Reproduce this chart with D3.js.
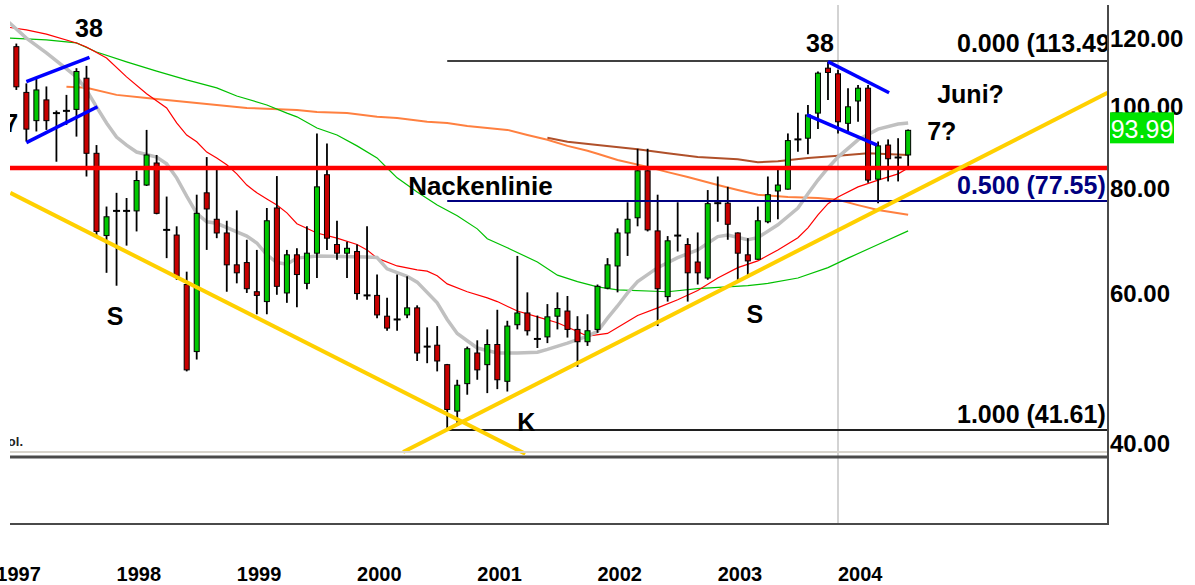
<!DOCTYPE html>
<html>
<head>
<meta charset="utf-8">
<script src="https://cdn.jsdelivr.net/npm/d3@7"></script>
<style>
  body { margin: 0; background: #fff; }
  svg { display: block; font-family: 'Liberation Sans', Arial, sans-serif; }
</style>
</head>
<body>
<svg id="chart" width="1195" height="585"></svg>
<script>
// monthly candles, first one = March 1997 (months counted from Jan 1997)
const FIRST_MONTH = 2;
// [open, high, low, close]
const candles = [
  [118, 119, 104.9, 105.8], [104.2, 106.8, 91.2, 94.3], [96.5, 108.3, 93.7, 104.9], [102.1, 105.9, 94.1, 96.5],
  [98.6, 99.2, 86.3, 98.4], [99.0, 103.5, 95.4, 99.2], [99.5, 111.3, 92.4, 110.3], [108.3, 112.0, 82.9, 88.3],
  [88.3, 90.3, 70.2, 71.4], [70.6, 76.4, 63.8, 74.3], [75.6, 79.3, 61.6, 75.4], [75.6, 78.2, 68.7, 75.4],
  [75.5, 84.2, 71.4, 82.0], [81.0, 94.1, 80.8, 87.9], [86.0, 87.9, 74.8, 75.0], [71.8, 78.5, 66.4, 71.6],
  [70.7, 72.4, 62.6, 63.2], [61.8, 64.0, 48.8, 49.0], [51.5, 78.9, 50.4, 75.0], [79.3, 87.4, 67.9, 75.9],
  [73.8, 85.1, 70.1, 71.1], [71.1, 73.5, 60.6, 65.2], [65.2, 75.6, 62.0, 63.8], [65.6, 69.8, 60.4, 61.1],
  [60.6, 67.9, 57.0, 60.0], [59.0, 76.1, 57.0, 73.5], [76.1, 83.0, 60.1, 61.5], [60.4, 67.9, 58.8, 67.0],
  [67.0, 68.2, 58.1, 63.5], [62.0, 72.4, 61.0, 67.3], [67.3, 93.2, 62.9, 80.6], [83.3, 90.7, 67.9, 70.1],
  [68.9, 73.5, 66.1, 67.3], [67.3, 69.4, 62.9, 68.2], [67.6, 68.9, 59.3, 60.3], [60.1, 72.4, 59.3, 59.9],
  [60.0, 63.5, 56.4, 56.9], [56.7, 59.6, 54.5, 54.9], [56.3, 63.5, 54.5, 56.1], [56.9, 63.2, 56.4, 58.0],
  [58.0, 58.4, 50.2, 51.3], [52.3, 55.0, 49.9, 52.1], [52.4, 55.2, 48.8, 50.2], [49.7, 49.8, 41.61, 44.0],
  [43.8, 47.7, 42.3, 47.0], [47.2, 52.2, 45.8, 51.9], [51.3, 53.1, 47.7, 49.0], [49.7, 54.7, 46.0, 52.5],
  [52.5, 57.7, 46.5, 47.7], [47.5, 56.0, 46.2, 55.2], [55.4, 66.8, 54.7, 57.2], [57.2, 60.5, 53.8, 54.5],
  [53.4, 56.8, 52.0, 53.2], [53.6, 58.6, 52.7, 56.6], [56.7, 60.5, 54.7, 57.9], [57.5, 59.9, 53.5, 54.7],
  [54.7, 56.7, 49.4, 52.9], [52.9, 57.0, 52.3, 54.5], [54.7, 61.8, 54.2, 61.5], [61.2, 66.4, 61.0, 65.2],
  [65.0, 72.0, 60.5, 71.1], [71.1, 77.3, 66.8, 73.8], [74.1, 89.4, 72.4, 84.2], [84.2, 89.4, 71.4, 71.7],
  [71.5, 78.9, 55.2, 61.1], [59.8, 70.5, 59.0, 69.6], [70.7, 77.3, 67.6, 70.5], [68.9, 70.1, 59.0, 63.8],
  [65.7, 71.2, 61.8, 63.8], [62.9, 79.9, 62.6, 77.0], [77.2, 82.9, 73.3, 77.0], [77.1, 80.6, 69.8, 72.8],
  [71.1, 71.2, 62.3, 67.3], [67.0, 70.1, 62.9, 65.9], [66.2, 76.4, 66.1, 73.5], [73.3, 82.9, 73.0, 78.9],
  [79.7, 85.2, 73.8, 81.0], [80.1, 93.2, 80.0, 91.4], [91.8, 98.6, 88.7, 91.6], [92.0, 100.7, 88.1, 98.0],
  [98.5, 110.3, 94.3, 109.8], [111.3, 113.49, 102.1, 110.0], [109.6, 110.8, 93.2, 96.2], [95.8, 105.4, 93.2, 100.2],
  [101.8, 106.3, 96.2, 105.4], [105.4, 106.3, 81.5, 82.1], [82.3, 91.2, 77.1, 90.1], [90.3, 91.7, 81.8, 87.0],
  [87.4, 92.0, 81.8, 87.2], [87.9, 94.2, 85.2, 93.99]
];

// moving averages: [candle index, value]
const maGray = [[-1, 126.9], [1, 120.8], [3, 116.0], [6, 108.7], [7, 104.9], [8, 100.2], [9, 95.9], [10, 92.3],
  [11, 90.3], [12, 88.6], [14, 87.4], [15, 85.8], [16, 82.6], [17, 78.6], [18, 75.0], [19, 73.3], [20, 73.0],
  [22, 71.3], [23, 70.5], [24, 69.2], [25, 67.0], [26, 65.6], [27, 65.3], [28, 66.4], [30, 66.8], [35, 66.6],
  [36, 66.5], [37, 64.5], [39, 63.2], [40, 62.2], [42, 58.8], [43, 56.2], [44, 54.1], [46, 52.0], [48, 51.3],
  [50, 51.3], [52, 51.4], [53, 51.8], [55, 52.7], [57, 53.7], [58, 54.4], [59, 56.4], [60, 58.3], [61, 60.4],
  [62, 62.3], [64, 64.7], [66, 66.5], [68, 67.9], [70, 70.4], [71, 70.7], [73, 69.8], [74, 70.2], [76, 72.7],
  [78, 76.1], [79, 79.1], [80, 82.1], [81, 84.85], [82, 87.4], [84, 91.6], [86, 94.3], [88, 95.6], [89, 95.9]];
const maRed = [[-1, 124.5], [1, 123.5], [3, 122.1], [6, 119.2], [7, 117.9], [9, 114.4], [11, 108.7], [13, 103.8],
  [15, 99.9], [16, 95.9], [17, 92.8], [18, 91.1], [19, 88.6], [20, 87.2], [21, 85.6], [22, 83.5], [23, 81.0],
  [24, 79.3], [25, 78.0], [26, 76.7], [27, 75.1], [28, 72.9], [30, 71.1], [32, 70.1], [34, 68.9], [35, 67.9],
  [36, 66.4], [38, 65.0], [40, 64.3], [41, 64.1], [42, 63.3], [43, 61.9], [45, 60.6], [47, 59.6], [48, 59.0],
  [50, 57.5], [52, 56.6], [54, 55.7], [56, 54.4], [57, 53.7], [59, 54.1], [61, 55.9], [62, 56.8], [64, 58.0],
  [66, 59.3], [68, 60.8], [70, 62.9], [72, 64.7], [74, 65.9], [76, 67.9], [78, 70.2], [79, 72.1], [80, 74.7],
  [81, 77.0], [82, 78.4], [84, 80.6], [86, 82.1], [88, 83.5], [89, 84.85]];
const maGreen = [[-1, 120.8], [3, 120.2], [6, 119.2], [8, 116.3], [11, 113.2], [14, 110.4], [17, 107.8],
  [20, 105.5], [22, 103.2], [25, 100.7], [27, 98.5], [28, 97.5], [30, 94.6], [32, 92.8], [34, 90.1], [36, 87.2],
  [37, 84.85], [38, 82.6], [40, 79.5], [42, 76.7], [44, 74.5], [46, 71.9], [47, 70.0], [49, 68.3], [52, 65.7],
  [54, 63.4], [56, 62.3], [58, 61.4], [60, 60.9], [65, 60.6], [68, 61.1], [73, 61.6], [75, 62.0], [78, 62.9],
  [81, 64.7], [83, 66.4], [86, 68.9], [89, 71.5]];
const maOrange = [[5, 105.8], [7, 105.5], [10, 103.5], [13, 102.6], [17, 101.5], [20, 100.7], [23, 99.9],
  [28, 99.3], [30, 98.8], [33, 98.5], [36, 97.5], [38, 97.2], [41, 96.2], [43, 95.9], [45, 95.1], [47, 94.6],
  [49, 94.1], [51, 92.8], [53, 91.6], [55, 90.1], [57, 88.9], [58, 88.2], [60, 86.7], [63, 85.1], [65, 83.9],
  [67, 82.8], [70, 81.0], [72, 79.9], [74, 78.9], [77, 78.4], [80, 78.2], [82, 77.8], [84, 76.7], [86, 75.7],
  [89, 74.7]];
const maBrown = [[53, 92.1], [55, 91.1], [58, 90.3], [62, 89.3], [65, 88.3], [68, 87.4], [72, 86.9], [74, 86.2],
  [76, 86.4], [79, 87.2], [82, 87.7], [85, 88.3], [89, 87.9]];

const years = [1997, 1998, 1999, 2000, 2001, 2002, 2003, 2004];
const yTicks = [120, 100, 80, 60, 40];
const lastClose = 93.99;
const neckline = 84.85;
const fibRatios = ['0.000', '0.500', '1.000'];
const fibValues = [113.49, 77.55, 41.61];
// trend lines and flags: [[candle index, value], [candle index, value]]
const trendDown = [[-0.6, 79.3], [50.8, 39.0]];
const trendUp = [[38.6, 39.2], [108.9, 104.1]];
const flags = [
  [[1.0, 107.3], [7.3, 114.6]], [[1.0, 90.9], [8.1, 100.2]],
  [[81.0, 113.3], [87.1, 104.1]], [[78.9, 98.0], [85.9, 90.3]]
];
// annotations: [text, candle index, value]
const notes = [['38', 7.25, 121.2], ['38', 80.2, 116.3], ['Juni?', 91.9, 101.3], ['7?', 90.9, 91.6],
  ['27', 0.17, 93.6], ['S', 9.85, 55.4], ['S', 73.7, 55.7], ['K', 50.9, 41.5]];

const SVG = d3.select('#chart');
const LEFT = 10, RIGHT = 1108, TOP = 5, BOTTOM = 455, VOL_BOTTOM = 524;

const X_SCALE = d3.scaleLinear().domain([0, 84]).range([-3.7, 838]);
const Y_SCALE = d3.scaleLog().domain([41.61, 113.49]).range([430, 61]);
const xk = (k) => X_SCALE(FIRST_MONTH + k);

SVG.append('defs').append('clipPath').attr('id', 'plotClip')
  .append('rect').attr('x', LEFT).attr('y', TOP).attr('width', RIGHT - LEFT).attr('height', BOTTOM - TOP);

// 2004 grid line through both panels
SVG.append('line')
  .attr('x1', X_SCALE(84)).attr('x2', X_SCALE(84))
  .attr('y1', TOP).attr('y2', VOL_BOTTOM)
  .style('stroke', '#c4c4c4').style('stroke-width', 1.5);

const PLOT = SVG.append('g').attr('clip-path', 'url(#plotClip)');

const LINE = d3.line().x((d) => xk(d[0])).y((d) => Y_SCALE(d[1]));
[
  [maOrange, '#ff8040', 2],
  [maBrown, '#b0502a', 2],
  [maGreen, '#00c000', 1.2],
  [maRed, '#ff0000', 1.2],
  [maGray, '#c0c0c0', 3.5],
].forEach(([d, color, w]) => {
  PLOT.append('path').datum(d).attr('d', LINE)
    .style('fill', 'none').style('stroke', color).style('stroke-width', w);
});

// candles
const CANDLES = PLOT.append('g').attr('id', 'candles');
candles.forEach((c, i) => {
  const [o, h, l, cl] = c;
  const x = xk(i);
  CANDLES.append('line')
    .attr('x1', x).attr('x2', x).attr('y1', Y_SCALE(h)).attr('y2', Y_SCALE(l))
    .style('stroke', '#000').style('stroke-width', 1.8);
  const top = Y_SCALE(Math.max(o, cl));
  const bot = Y_SCALE(Math.min(o, cl));
  if (bot - top < 2) {
    CANDLES.append('line')
      .attr('x1', x - 3.5).attr('x2', x + 3.5).attr('y1', (top + bot) / 2).attr('y2', (top + bot) / 2)
      .style('stroke', '#000').style('stroke-width', 2);
  } else {
    CANDLES.append('rect')
      .attr('x', x - 2.5).attr('width', 5).attr('y', top).attr('height', bot - top)
      .style('fill', cl >= o ? '#00c800' : '#c80000')
      .style('stroke', '#000').style('stroke-width', 1);
  }
});

// fibonacci levels
const FIB_COLORS = ['#404040', '#000080', '#202020'];
fibValues.forEach((v, i) => {
  PLOT.append('line')
    .attr('x1', xk(43)).attr('x2', RIGHT).attr('y1', Y_SCALE(v)).attr('y2', Y_SCALE(v))
    .style('stroke', FIB_COLORS[i]).style('stroke-width', 2);
  PLOT.append('text')
    .attr('x', 957).attr('y', Y_SCALE(v) - (i === 0 ? 9 : 7))
    .text(`${fibRatios[i]} (${v.toFixed(2)})`)
    .style('font-size', '25px').style('font-weight', 'bold')
    .style('fill', i === 1 ? '#000080' : '#000');
});

// neckline
PLOT.append('line')
  .attr('x1', LEFT).attr('x2', RIGHT).attr('y1', Y_SCALE(neckline)).attr('y2', Y_SCALE(neckline))
  .style('stroke', '#ff0000').style('stroke-width', 4.5);
PLOT.append('text')
  .attr('x', xk(39.1)).attr('y', Y_SCALE(78.9))
  .text('Nackenlinie')
  .style('font-size', '26px').style('font-weight', 'bold').style('fill', '#000');

[trendDown, trendUp].forEach((d) => {
  PLOT.append('path').datum(d).attr('d', LINE)
    .style('fill', 'none').style('stroke', '#ffd000').style('stroke-width', 4);
});
flags.forEach((d) => {
  PLOT.append('path').datum(d).attr('d', LINE)
    .style('fill', 'none').style('stroke', '#0000ff').style('stroke-width', 3.5);
});

notes.forEach(([t, k, v]) => {
  const anchor = t === '27' ? 'end' : (t === 'Juni?' || t === '7?' ? 'start' : 'middle');
  PLOT.append('text')
    .attr('x', xk(k)).attr('y', Y_SCALE(v))
    .attr('text-anchor', anchor)
    .text(t)
    .style('font-size', '25px').style('font-weight', 'bold').style('fill', '#000');
});
PLOT.append('text')
  .attr('x', 23).attr('y', Y_SCALE(39.8))
  .attr('text-anchor', 'end')
  .text('Vol.')
  .style('font-size', '13px').style('font-weight', 'bold').style('fill', '#222');

// panel separators and frame
SVG.append('line').attr('x1', LEFT).attr('x2', RIGHT).attr('y1', 452).attr('y2', 452)
  .style('stroke', '#d8d4cc').style('stroke-width', 2);
SVG.append('line').attr('x1', LEFT).attr('x2', RIGHT).attr('y1', 457).attr('y2', 457)
  .style('stroke', '#4a4a4a').style('stroke-width', 3);
SVG.append('line').attr('x1', LEFT).attr('x2', RIGHT).attr('y1', VOL_BOTTOM).attr('y2', VOL_BOTTOM)
  .style('stroke', '#4a4a4a').style('stroke-width', 2);
SVG.append('line').attr('x1', RIGHT).attr('x2', RIGHT).attr('y1', TOP).attr('y2', VOL_BOTTOM + 1)
  .style('stroke', '#4a4a4a').style('stroke-width', 2);

// y axis labels
yTicks.forEach((v) => {
  SVG.append('text')
    .attr('x', 1110).attr('y', Y_SCALE(v) + 7)
    .text(v.toFixed(2))
    .style('font-size', '24px').style('font-weight', 'bold').style('fill', '#000');
});

// last price box
SVG.append('rect')
  .attr('x', 1110).attr('y', Y_SCALE(lastClose) - 18).attr('width', 64).attr('height', 31)
  .style('fill', '#00e400');
SVG.append('text')
  .attr('x', 1142).attr('y', Y_SCALE(lastClose) + 8)
  .attr('text-anchor', 'middle')
  .text(lastClose.toFixed(2))
  .style('font-size', '25px').style('fill', '#fff');

// year labels
years.forEach((yr) => {
  SVG.append('text')
    .attr('x', X_SCALE((yr - 1997) * 12)).attr('y', 581)
    .text(yr)
    .style('font-size', '20px').style('font-weight', 'bold').style('fill', '#000');
});
</script>
</body>
</html>
